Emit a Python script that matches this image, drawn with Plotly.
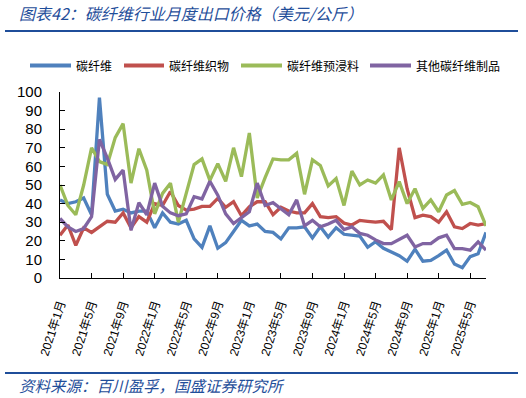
import plotly.graph_objects as go

months = [f"{y}年{m}月" for y in range(2021, 2026) for m in range(1, 13)][:55]

carbon_fiber = [42, 40, 41, 43, 34, 97, 45, 36, 37, 35, 36, 36, 27, 35, 30, 29, 31, 21, 16.5, 28,
                16, 19, 25, 31, 28, 29, 25, 24.5, 21, 27, 27, 27.5, 21.5, 27.5, 22, 27, 23.5, 23, 22.5, 16.5,
                19.5, 16, 14, 12, 9, 15.5, 9, 9.5, 12, 15, 7.5, 5.5, 11.5, 13, 24.5]
fabric = [23, 28.5, 17.5, 27, 24.5, 27.5, 30.5, 30, 35, 27, 33, 30, 40, 39, 46.5, 39, 36.5, 37, 38.5, 38.5,
          42.8, 38, 41, 33.5, 38.3, 41, 41, 34, 38, 36, 35, 35, 40, 33, 32.5, 33, 29.5, 28.5, 31, 30.5,
          30, 30.5, 26, 70, 48, 32.5, 33.8, 33, 30, 35.6, 27.5, 26.6, 29.3, 28.4, 29.3]
prepreg = [50, 39, 34, 50, 70, 62.6, 61, 75.5, 83, 51, 69.5, 58, 34.5, 45.5, 51, 30, 45.5, 61, 64, 52.5,
           61.5, 52, 70, 54.5, 78, 43, 54, 64, 63.5, 63.5, 67, 45, 63.5, 60.5, 49.5, 53.5, 39, 57.5, 50, 52.7,
           51, 55.4, 42, 51.8, 40, 48, 37.4, 42, 35.6, 44.6, 47, 39.6, 40.6, 38.3, 28]
other_products = [32, 27.5, 25, 26.6, 33, 74.5, 64.4, 53, 58, 25.7, 40.5, 34, 51, 38.5, 35, 33.5, 34.5, 43.7, 42.5, 52,
                  44.5, 34.5, 29.3, 32.6, 35.6, 51, 39, 40.5, 37, 34, 42, 28, 31, 27.5, 29, 31, 26, 27.5, 24, 23,
                  20.5, 18.5, 18.5, 21, 23, 16.7, 18.5, 18.5, 21.6, 23, 15.8, 15.8, 15, 19.4, 15]

series_names = ["碳纤维", "碳纤维织物", "碳纤维预浸料", "其他碳纤维制品"]
series_values = [carbon_fiber, fabric, prepreg, other_products]
colors = ["#4F81BD", "#C0504D", "#9BBB59", "#8064A2"]

tick_labels = months[::4]

fig = go.Figure()
for name, vals, c in zip(series_names, series_values, colors):
    fig.add_trace(go.Scatter(x=months, y=vals, name=name, mode="lines",
                             line=dict(color=c, width=3.3), cliponaxis=False))

blue = "#1F4E9A"
fig.update_layout(
    width=526, height=398,
    margin=dict(l=60, r=40, t=92, b=120, autoexpand=False),
    paper_bgcolor="white", plot_bgcolor="white",
    font=dict(family="Liberation Sans, Noto Sans CJK SC, sans-serif", size=12, color="black"),
    showlegend=False,
    xaxis=dict(type="category", categoryorder="array", categoryarray=months,
               range=[0, 54], tickmode="array", tickvals=tick_labels, ticktext=tick_labels,
               tickangle=-72, ticks="inside", ticklen=5, tickcolor="black",
               showline=True, linecolor="black", linewidth=1, showgrid=False, zeroline=False,
               tickfont=dict(size=12, family="Liberation Sans, Noto Sans CJK SC, sans-serif"),
               ticklabelstandoff=13),
    yaxis=dict(range=[0, 100], dtick=10, ticks="inside", ticklen=5, tickcolor="black",
               showline=True, linecolor="black", linewidth=1, showgrid=False, zeroline=False,
               tickfont=dict(size=15, family="Liberation Sans, sans-serif"),
               ticklabelstandoff=14),
)

W_PLOT = 426
H_PLOT = 186

def px_x(x):
    return (x - 60) / W_PLOT

def px_y(y):
    return (278 - y) / H_PLOT

# header / footer rules
fig.add_shape(type="line", xref="paper", yref="paper", x0=px_x(5), x1=px_x(518),
              y0=px_y(31), y1=px_y(31), line=dict(color=blue, width=2))
fig.add_shape(type="line", xref="paper", yref="paper", x0=px_x(5), x1=px_x(518),
              y0=px_y(373), y1=px_y(373), line=dict(color=blue, width=2))

fig.add_annotation(xref="paper", yref="paper", x=px_x(17), y=px_y(13), xanchor="left", yanchor="middle",
                   text="<i>图表42：碳纤维行业月度出口价格（美元/公斤）</i>", showarrow=False,
                   font=dict(size=16, color=blue, family="Noto Sans CJK SC, sans-serif"))
fig.add_annotation(xref="paper", yref="paper", x=px_x(17), y=px_y(385), xanchor="left", yanchor="middle",
                   text="<i>资料来源：百川盈孚，国盛证券研究所</i>", showarrow=False,
                   font=dict(size=15.5, color=blue, family="Noto Sans CJK SC, sans-serif"))

# legend (drawn row)
legend_line_x = [(30, 71), (124, 164), (241, 282), (370, 411)]
legend_y = 65.5
for (x0, x1), name, c in zip(legend_line_x, series_names, colors):
    fig.add_shape(type="line", xref="paper", yref="paper", x0=px_x(x0), x1=px_x(x1),
                  y0=px_y(legend_y), y1=px_y(legend_y), line=dict(color=c, width=4))
    fig.add_annotation(xref="paper", yref="paper", x=px_x(x1 + 3), y=px_y(legend_y),
                       xanchor="left", yanchor="middle", text=name, showarrow=False,
                       font=dict(size=12, color="black", family="Noto Sans CJK SC, sans-serif"))

fig.write_html("out.html", config={"displayModeBar": False},
               post_script="document.body.style.margin='0';")
